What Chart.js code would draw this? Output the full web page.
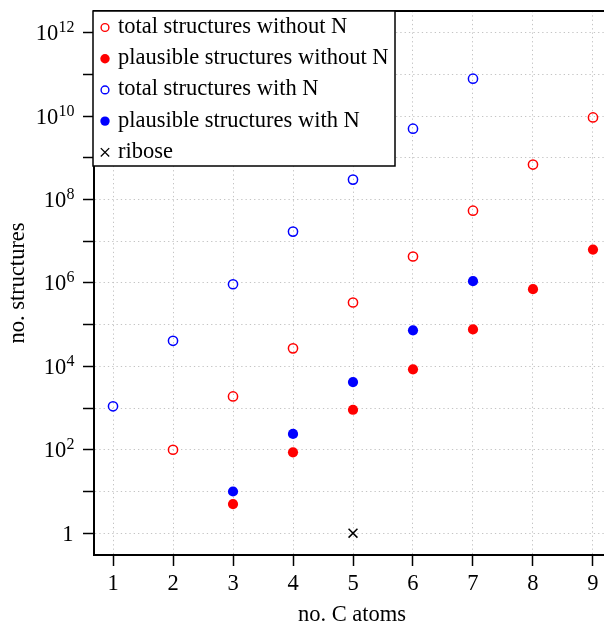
<!DOCTYPE html>
<html>
<head>
<meta charset="utf-8">
<script src="https://cdn.jsdelivr.net/npm/chart.js@4/dist/chart.umd.min.js"></script>
<style>
  html, body { margin: 0; padding: 0; background: #fff; overflow: hidden; }
  #wrap { width: 604px; height: 626px; overflow: hidden; }
  canvas { display: block; }
</style>
</head>
<body>
<div id="wrap"><canvas id="chart" width="620" height="626"></canvas></div>
<script>
// number of carbon atoms on the x axis
const cAtoms = [1, 2, 3, 4, 5, 6, 7, 8, 9];

// counts per carbon number (null = not computed)
const totalWithoutN     = [null, 100, 1900, 2.7e4, 3.4e5, 4.3e6, 5.4e7, 6.9e8, 9.3e9];
const plausibleWithoutN = [null, null, 5, 87, 910, 8.5e3, 7.7e4, 7.1e5, 6.3e6];
const totalWithN        = [1.1e3, 4.1e4, 9.3e5, 1.7e7, 3.0e8, 5.0e9, 7.9e10, null, null];
const plausibleWithN    = [null, null, 10, 240, 4.2e3, 7.3e4, 1.1e6, null, null];
const riboseAtoms = [5];
const riboseCount = [1];

// log axis: one tick per decade, labels on even decades
const yDecades = [0, 1, 2, 3, 4, 5, 6, 7, 8, 9, 10, 11, 12];
const yLabelDecades = [0, 2, 4, 6, 8, 10, 12];

const RED = '#ff0000';
const BLUE = '#0000ff';
const SERIF = '"Liberation Serif", "DejaVu Serif", serif';
const FONT_PX = 22.5;

const pts = (xs, ys) => xs.map((x, i) => ({ x, y: ys[i] })).filter(p => p.y != null);

const series = [
  { label: 'total structures without N', data: pts(cAtoms, totalWithoutN), color: RED, filled: false },
  { label: 'plausible structures without N', data: pts(cAtoms, plausibleWithoutN), color: RED, filled: true },
  { label: 'total structures with N', data: pts(cAtoms, totalWithN), color: BLUE, filled: false },
  { label: 'plausible structures with N', data: pts(cAtoms, plausibleWithN), color: BLUE, filled: true },
  { label: 'ribose', data: pts(riboseAtoms, riboseCount), color: '#000', cross: true },
];

const datasets = series.map(s => {
  if (s.cross) {
    return {
      label: s.label, data: s.data, pointStyle: 'crossRot',
      pointRadius: 6.3, borderColor: s.color, borderWidth: 1.5,
    };
  }
  return {
    label: s.label, data: s.data, pointStyle: 'circle',
    pointRadius: s.filled ? 5.1 : 4.6,
    backgroundColor: s.filled ? s.color : 'rgba(0,0,0,0)',
    borderColor: s.color,
    borderWidth: s.filled ? 0 : 1.5,
  };
});

// frame, y labels with superscripts, axis titles and the legend box
const decor = {
  id: 'decor',
  afterDraw(chart) {
    const { ctx, chartArea: a, scales } = chart;
    ctx.save();

    // top and right edges of the frame
    ctx.strokeStyle = '#000';
    ctx.lineWidth = 2;
    ctx.beginPath();
    ctx.moveTo(a.left - 1, a.top);
    ctx.lineTo(a.right, a.top);
    ctx.lineTo(a.right, a.bottom);
    ctx.stroke();

    // y tick labels: 1, 10^2 ... 10^12
    ctx.fillStyle = '#000';
    ctx.textBaseline = 'alphabetic';
    const rightEdge = 74.5;
    yLabelDecades.forEach(d => {
      const y = scales.y.getPixelForValue(Math.pow(10, d));
      if (d === 0) {
        ctx.font = FONT_PX + 'px ' + SERIF;
        ctx.textAlign = 'right';
        ctx.fillText('1', rightEdge - 1, y + 7.5);
        return;
      }
      ctx.font = '16px ' + SERIF;
      const sup = String(d);
      const supW = ctx.measureText(sup).width;
      ctx.textAlign = 'left';
      ctx.fillText(sup, rightEdge - supW, y - 0.5);
      ctx.font = FONT_PX + 'px ' + SERIF;
      ctx.textAlign = 'right';
      ctx.fillText('10', rightEdge - supW - 0.3, y + 7.5);
    });

    // axis titles
    ctx.font = FONT_PX + 'px ' + SERIF;
    ctx.textAlign = 'center';
    ctx.fillText('no. C atoms', (a.left + a.right) / 2 - 1, 621);
    ctx.save();
    ctx.translate(23.5, (a.top + a.bottom) / 2);
    ctx.rotate(-Math.PI / 2);
    ctx.fillText('no. structures', 0, 0);
    ctx.restore();

    // legend
    const lx = a.left - 1, ly = a.top, lw = 302, lh = 155;
    ctx.fillStyle = '#fff';
    ctx.fillRect(lx, ly, lw, lh);
    ctx.strokeStyle = '#000';
    ctx.lineWidth = 1.5;
    ctx.strokeRect(lx, ly, lw, lh);

    series.forEach((s, i) => {
      const cy = ly + 16.5 + i * 31.2;
      const cx = lx + 12;
      ctx.strokeStyle = s.color;
      ctx.fillStyle = s.color;
      if (s.cross) {
        ctx.lineWidth = 1.3;
        const r = 4.2;
        ctx.beginPath();
        ctx.moveTo(cx - r, cy - r); ctx.lineTo(cx + r, cy + r);
        ctx.moveTo(cx - r, cy + r); ctx.lineTo(cx + r, cy - r);
        ctx.stroke();
      } else if (s.filled) {
        ctx.beginPath();
        ctx.arc(cx, cy, 4.7, 0, Math.PI * 2);
        ctx.fill();
      } else {
        ctx.lineWidth = 1.4;
        ctx.beginPath();
        ctx.arc(cx, cy, 3.9, 0, Math.PI * 2);
        ctx.stroke();
      }
      ctx.fillStyle = '#000';
      ctx.font = FONT_PX + 'px ' + SERIF;
      ctx.textAlign = 'left';
      ctx.fillText(s.label, lx + 25, cy + 5.5);
    });

    ctx.restore();
  }
};

const gridStyle = {
  color: '#c4c4c4',
  lineWidth: 1,
  tickColor: '#000',
  tickWidth: 1.5,
  tickLength: 11,
  tickBorderDash: [10, 0],
};
// in Chart.js v4 the border dash is what dashes the grid lines
const borderStyle = { display: true, color: '#000', width: 2, dash: [1.3, 3] };

new Chart(document.getElementById('chart'), {
  type: 'scatter',
  data: { datasets },
  options: {
    responsive: false,
    animation: false,
    layout: { padding: { left: 0, top: 11, right: 8, bottom: 0 } },
    plugins: { legend: { display: false }, tooltip: { enabled: false } },
    scales: {
      x: {
        type: 'linear',
        min: 0.683,
        max: 9.317,
        grid: gridStyle,
        border: borderStyle,
        ticks: { color: '#000', font: { family: SERIF, size: FONT_PX }, padding: 5 },
        afterBuildTicks: s => { s.ticks = cAtoms.map(v => ({ value: v })); },
        afterFit: s => { s.height = 71; },
      },
      y: {
        type: 'logarithmic',
        min: Math.pow(10, -0.495),
        max: Math.pow(10, 12.52),
        grid: gridStyle,
        border: borderStyle,
        ticks: { callback: () => '' },
        afterBuildTicks: s => { s.ticks = yDecades.map(d => ({ value: Math.pow(10, d) })); },
        afterFit: s => { s.width = 94; },
      },
    },
  },
  plugins: [decor],
});
</script>
</body>
</html>
